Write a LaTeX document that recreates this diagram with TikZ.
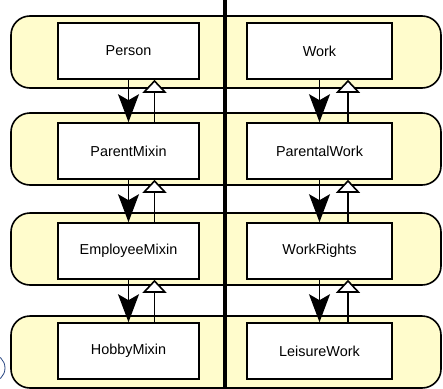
\documentclass[tikz,border=0pt]{standalone}
\usepackage{fontspec}
\setmainfont{Liberation Sans}
\usetikzlibrary{arrows.meta}
\definecolor{bandfill}{RGB}{255,252,204}
\definecolor{circblue}{RGB}{40,70,130}
\tikzset{
  downtip/.tip={Stealth[length=28pt, width=21pt, inset=6pt]},
  uptip/.tip={Triangle[open, fill=white, length=13pt, width=24pt]},
}

\begin{document}
\begin{tikzpicture}[x=1pt, y=-1pt, node distance=100pt,
    cls/.style={draw, line width=1.6pt, fill=white, minimum width=141pt,
      minimum height=56pt, inner sep=0pt, font=\fontsize{14.4}{17}\selectfont},
    band/.style={draw, line width=1.6pt, fill=bandfill, rounded corners=19pt},
    downarr/.style={line width=1.6pt, -downtip},
    uparr/.style={line width=1.6pt, -uptip}]
        \useasboundingbox (0,0) rectangle (443,388);
        \foreach \t in {16,113,213,316}
          \draw[band] (11,\t) rectangle (441,\t+72);
        \draw[circblue, line width=0.8pt] (-9,368) circle (14);
        \draw[line width=3.5pt] (225,0) -- (225,388);

        \node[cls] (person) at (128.5,51) {Person};
        \node[cls, below of=person] (parentmixin) {ParentMixin};
        \node[cls, below of=parentmixin] (employeemixin) {EmployeeMixin};
        \node[cls, below of=employeemixin] (hobbymixin) {HobbyMixin};

        \node[cls, minimum width=145pt, right of=person, xshift=91pt] (work) {Work};
        \node[cls, minimum width=145pt, below of=work] (parentalwork) {ParentalWork};
        \node[cls, minimum width=145pt, below of=parentalwork] (workrights) {WorkRights};
        \node[cls, minimum width=145pt, below of=workrights] (leisurework) {LeisureWork};

        \foreach \a/\b in {person/parentmixin, parentmixin/employeemixin, employeemixin/hobbymixin} {
          \draw[downarr] (\a.south) -- (\b.north);
          \draw[uparr] ([xshift=26pt]\b.north) -- ([xshift=26pt]\a.south);
        }
        \foreach \a/\b in {work/parentalwork, parentalwork/workrights, workrights/leisurework} {
          \draw[downarr] (\a.south) -- (\b.north);
          \draw[uparr] ([xshift=28.5pt]\b.north) -- ([xshift=28.5pt]\a.south);
        }
      \end{tikzpicture}
\end{document}
